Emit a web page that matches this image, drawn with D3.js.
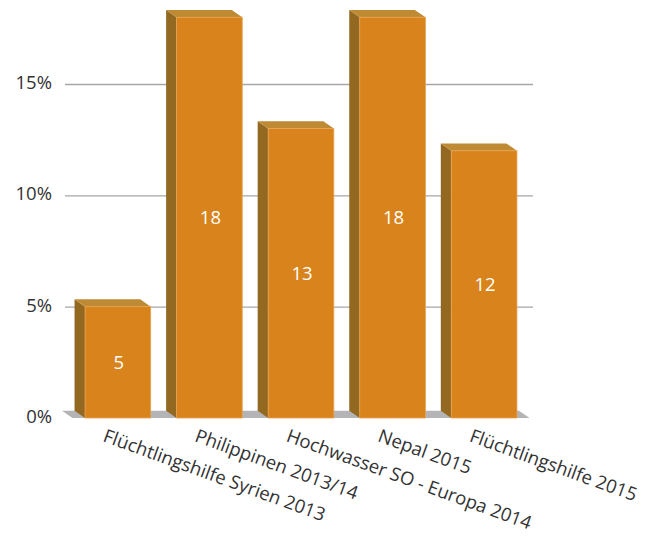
<!DOCTYPE html>
<html>
<head>
<meta charset="utf-8">
<script src="https://cdn.jsdelivr.net/npm/d3@7"></script>
<style>
  html, body { margin: 0; padding: 0; background: #ffffff; }
  svg { display: block; }
  text { font-family: "Open Sans", "Noto Sans", sans-serif; }
</style>
</head>
<body>
<div id="chart"></div>
<script>
// ---- data ----
const categories = [
  "Flüchtlingshilfe Syrien 2013",
  "Philippinen 2013/14",
  "Hochwasser SO - Europa 2014",
  "Nepal 2015",
  "Flüchtlingshilfe 2015"
];
const values = [5, 18, 13, 18, 12];
const tickValues = [0, 5, 10, 15];
const tickLabels = ["0%", "5%", "10%", "15%"];

// ---- layout ----
const W = 649, H = 536;
const depthX = 10.5, depthY = 7.3;
const gridX0 = 65, gridX1 = 533;
const fontSize = "18.5px";

const svg = d3.select("#chart").append("svg")
  .attr("width", W).attr("height", H);

const x = d3.scaleBand()
  .domain(categories)
  .range([72.5, 529.5])
  .paddingInner(0.283)
  .paddingOuter(0.137);

const y = d3.scaleLinear()
  .domain([0, 15])
  .range([418, 84]);

const colFront = "#d9831c";
const colSide = "#936821";
const colTop = "#be8a33";
const colFloor = "#b4b4b6";
const textCol = "#333333";

// grid + y-axis labels
const yAxis = d3.axisLeft(y)
  .tickValues(tickValues)
  .tickFormat((d, i) => tickLabels[i])
  .tickSize(-(gridX1 - gridX0))
  .tickPadding(13);

const gAxis = svg.append("g")
  .attr("transform", `translate(${gridX0},0)`)
  .call(yAxis);
gAxis.select(".domain").remove();
gAxis.selectAll(".tick line")
  .attr("stroke", "#a6a6a6")
  .attr("stroke-width", 1.4)
  .attr("display", d => d === 0 ? "none" : null);
gAxis.selectAll(".tick text")
  .attr("fill", textCol)
  .attr("font-size", fontSize)
  .attr("dy", "0.25em")
  .style("font-family", "'Open Sans', sans-serif");

// floor
const fx0 = x.range()[0], fx1 = x.range()[1], fy = y(0);
svg.append("polygon")
  .attr("points", [
    [fx0, fy], [fx1, fy], [fx1 - depthX, fy - depthY], [fx0 - depthX, fy - depthY]
  ].map(p => p.join(",")).join(" "))
  .attr("fill", colFloor);

// bars
const bars = svg.append("g").selectAll("g.bar")
  .data(values.map((v, i) => ({ cat: categories[i], v })))
  .join("g").attr("class", "bar");

bars.append("polygon") // side
  .attr("points", d => {
    const x0 = x(d.cat), yt = y(d.v), yb = y(0);
    return [[x0, yt], [x0 - depthX, yt - depthY], [x0 - depthX, yb - depthY], [x0, yb]]
      .map(p => p.join(",")).join(" ");
  })
  .attr("fill", colSide);

bars.append("polygon") // top
  .attr("points", d => {
    const x0 = x(d.cat), x1 = x0 + x.bandwidth(), yt = y(d.v);
    return [[x0, yt], [x1, yt], [x1 - depthX, yt - depthY], [x0 - depthX, yt - depthY]]
      .map(p => p.join(",")).join(" ");
  })
  .attr("fill", colTop);

bars.append("rect") // front
  .attr("x", d => x(d.cat))
  .attr("y", d => y(d.v))
  .attr("width", x.bandwidth())
  .attr("height", d => y(0) - y(d.v))
  .attr("fill", colFront)
  .attr("stroke", "#e9a451")
  .attr("stroke-width", 0.8);

bars.append("text") // value labels
  .attr("x", d => x(d.cat) + x.bandwidth() / 2 + 1)
  .attr("y", d => y(d.v / 2))
  .attr("dy", "0.35em")
  .attr("text-anchor", "middle")
  .attr("fill", "#ffffff")
  .attr("font-size", fontSize)
  .text(d => d.v);

// category labels (rotated)
svg.append("g").selectAll("text")
  .data(categories)
  .join("text")
  .attr("transform", d => `translate(${x(d) + x.bandwidth() / 2 - 11},${fy + 10}) rotate(20)`)
  .attr("dy", "0.75em")
  .attr("text-anchor", "start")
  .attr("fill", textCol)
  .attr("font-size", fontSize)
  .text(d => d);
</script>
</body>
</html>
